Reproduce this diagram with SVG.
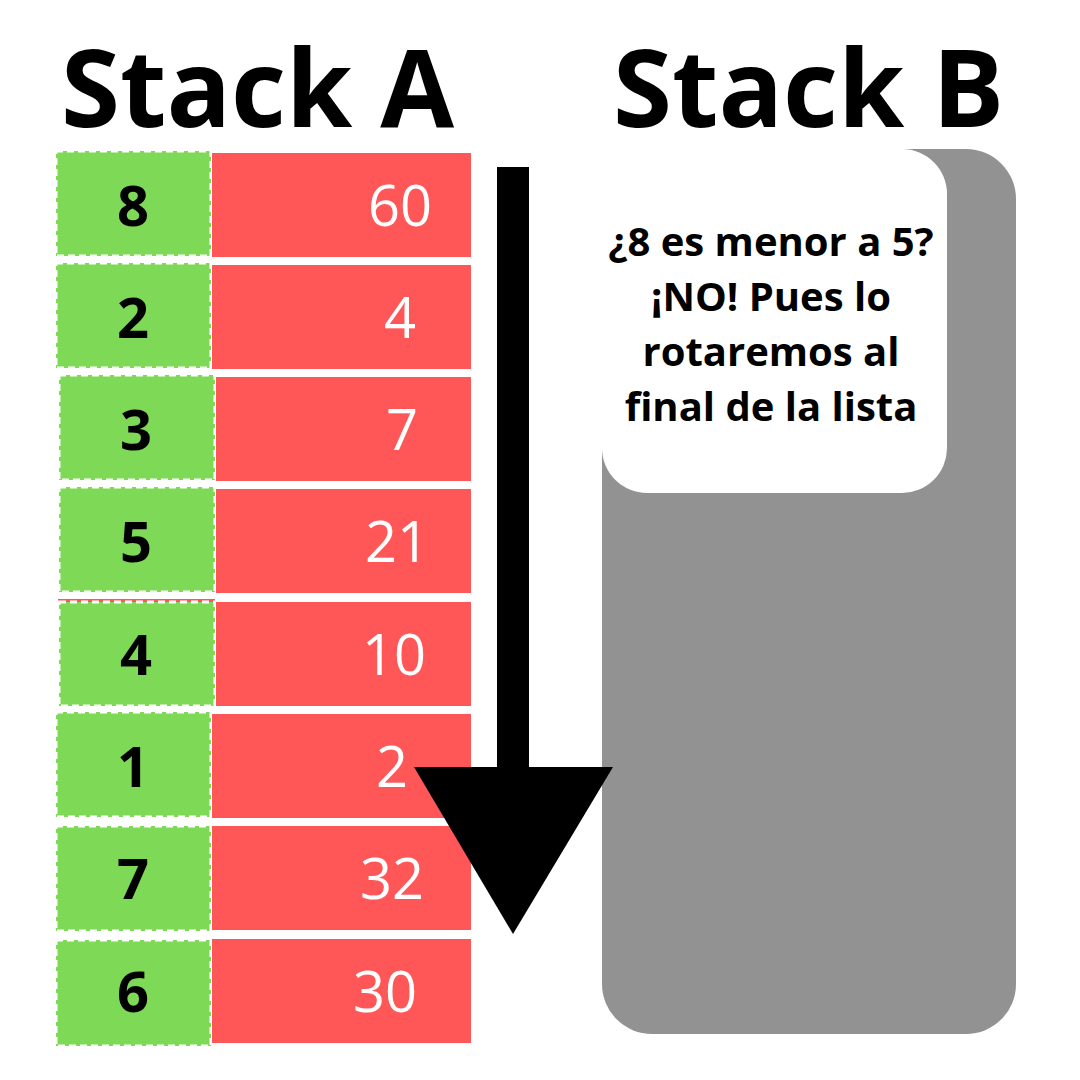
<svg xmlns="http://www.w3.org/2000/svg" width="1080" height="1080" viewBox="0 0 1080 1080">
<style>
.title{font-family:"Open Sans","Liberation Sans",sans-serif;font-weight:700;font-size:107px;fill:#000}
.key{fill:#7ED957;stroke:#fff;stroke-width:3;stroke-dasharray:7 4}
.val{fill:#FF5757}
.kt{font-family:"Open Sans","Liberation Sans",sans-serif;font-weight:700;font-size:56px;fill:#000;text-anchor:middle}
.vt{font-family:"Open Sans","Liberation Sans",sans-serif;font-weight:400;font-size:56px;fill:#fff;text-anchor:middle}
.note{font-family:"Open Sans","Liberation Sans",sans-serif;font-weight:700;font-size:40px;fill:#000;text-anchor:middle}
</style>
<rect width="1080" height="1080" fill="#fff"/>
<text class="title" x="61" y="127">Stack A</text>
<text class="title" x="613" y="127">Stack B</text>

<g id="stackB">
<rect x="602" y="149" width="414" height="885" rx="50" ry="50" fill="#929292"/>
</g>
<g id="callout">
<rect x="602" y="149" width="345" height="344" rx="45" ry="45" fill="#fff"/>
<text class="note" x="771" y="256">¿8 es menor a 5?</text>
<text class="note" x="771" y="311">¡NO! Pues lo</text>
<text class="note" x="771" y="366">rotaremos al</text>
<text class="note" x="771" y="421">final de la lista</text>
</g>

<g id="row1"><rect class="key" x="56" y="151" width="155" height="105"/><rect class="val" x="212" y="153" width="259" height="104"/><text class="kt" x="133" y="226">8</text><text class="vt" x="400" y="226">60</text></g>
<g id="row2"><rect class="key" x="56" y="263" width="155" height="105"/><rect class="val" x="212" y="265" width="259" height="104"/><text class="kt" x="133" y="338">2</text><text class="vt" x="400" y="338">4</text></g>
<g id="row3"><rect class="key" x="59" y="375" width="156" height="105"/><rect class="val" x="216" y="377" width="255" height="104"/><text class="kt" x="136" y="450">3</text><text class="vt" x="402" y="450">7</text></g>
<g id="row4"><rect class="key" x="59" y="487" width="156" height="105"/><rect class="val" x="216" y="489" width="255" height="104"/><text class="kt" x="136" y="562">5</text><text class="vt" x="397" y="562">21</text></g>
<g id="row5"><rect x="58" y="599" width="157" height="3" fill="#FF5757"/><rect class="key" x="59" y="602" width="156" height="104"/><rect class="val" x="216" y="602" width="255" height="104"/><text class="kt" x="136" y="675">4</text><text class="vt" x="394" y="675">10</text></g>
<g id="row6"><rect class="key" x="56" y="712" width="155" height="105"/><rect class="val" x="212" y="714" width="259" height="104"/><text class="kt" x="133" y="787">1</text><text class="vt" x="392" y="787">2</text></g>
<g id="row7"><rect class="key" x="56" y="826" width="155" height="105"/><rect class="val" x="212" y="826" width="259" height="104"/><text class="kt" x="133" y="899">7</text><text class="vt" x="392" y="899">32</text></g>
<g id="row8"><rect class="key" x="56" y="940" width="155" height="106"/><rect class="val" x="212" y="939" width="259" height="104"/><text class="kt" x="133" y="1012">6</text><text class="vt" x="385" y="1012">30</text></g>

<g id="connectors">
<rect x="497" y="167" width="32" height="602" fill="#000"/>
<polygon points="414,767 613,767 513,934" fill="#000"/>
</g>
</svg>
